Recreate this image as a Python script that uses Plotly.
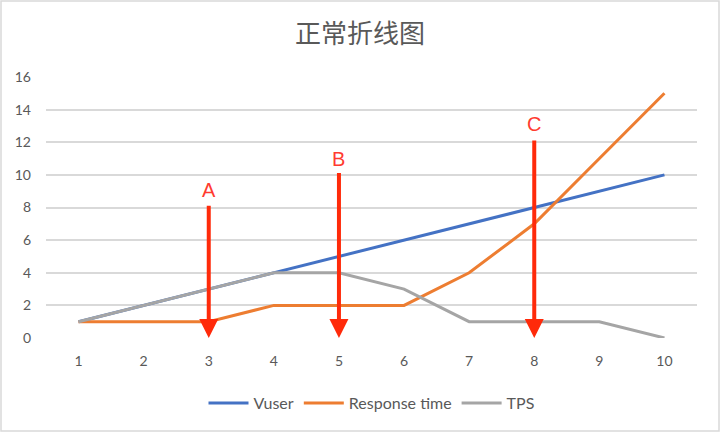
import plotly.graph_objects as go

categories = ["1", "2", "3", "4", "5", "6", "7", "8", "9", "10"]
vuser = [1, 2, 3, 4, 5, 6, 7, 8, 9, 10]
response_time = [1, 1, 1, 2, 2, 2, 4, 7, 11, 15]
tps = [1, 2, 3, 4, 4, 3, 1, 1, 1, 0]

arrow_labels = ["A", "B", "C"]
arrow_x = ["3", "5", "8"]
arrow_top = [8.2, 10.2, 12.2]
label_y = [9.1, 11.0, 13.1]

W, H = 720, 432
ML, MR, MT, MB = 46, 23, 77, 94

fig = go.Figure()
series = [("Vuser", vuser, "#4472C4"),
          ("Response time", response_time, "#ED7D31"),
          ("TPS", tps, "#A5A5A5")]
for name, vals, col in series:
    fig.add_trace(go.Scatter(x=categories, y=vals, name=name, mode="lines",
                             line=dict(color=col, width=3)))

annotations = []
for lab, xv, top, ly in zip(arrow_labels, arrow_x, arrow_top, label_y):
    xi = categories.index(xv)
    annotations.append(dict(x=xi, y=0, ax=xi, ay=top, xref="x", yref="y",
                            axref="x", ayref="y", text="", showarrow=True,
                            arrowhead=2, arrowsize=0.95, arrowwidth=4,
                            arrowcolor="#FF2A0A"))
    annotations.append(dict(x=xi, y=ly, xref="x", yref="y", text=lab,
                            showarrow=False,
                            font=dict(size=20, color="#FF3B30",
                                      family="Liberation Sans, Arial")))

pw = W - ML - MR
ph = H - MT - MB
fig.add_shape(type="rect", xref="paper", yref="paper",
              x0=(1 - ML) / pw, x1=(W - 1 - ML) / pw,
              y0=-(H - 1 - MT - ph) / ph, y1=(MT - 1) / ph + 1,
              line=dict(color="#D9D9D9", width=1.5), layer="below")

fig.update_layout(
    width=W, height=H,
    margin=dict(l=ML, r=MR, t=MT, b=MB),
    paper_bgcolor="white", plot_bgcolor="white",
    title=dict(text="正常折线图", x=0.5, xanchor="center", y=1 - 34 / H,
               yanchor="middle",
               font=dict(family="Noto Sans CJK SC", size=26, color="#595959")),
    font=dict(family="Lato, Open Sans, sans-serif", size=14, color="#595959"),
    xaxis=dict(type="category", range=[-0.5, 9.5], showgrid=False,
               zeroline=False, showline=False, ticks="outside", ticklen=10,
               tickcolor="rgba(0,0,0,0)", tickfont=dict(size=14, color="#595959")),
    yaxis=dict(range=[0, 16], dtick=2, showgrid=True, gridcolor="#D9D9D9",
               gridwidth=1.5, zeroline=False, showline=False,
               ticklabelstandoff=14, tickfont=dict(size=14, color="#595959")),
    legend=dict(orientation="h", x=0.5, xanchor="center", y=-65 / ph,
                yanchor="middle", font=dict(size=16, color="#595959"),
                itemwidth=40),
    annotations=annotations,
    showlegend=True,
)

fig.write_html("out.html")
